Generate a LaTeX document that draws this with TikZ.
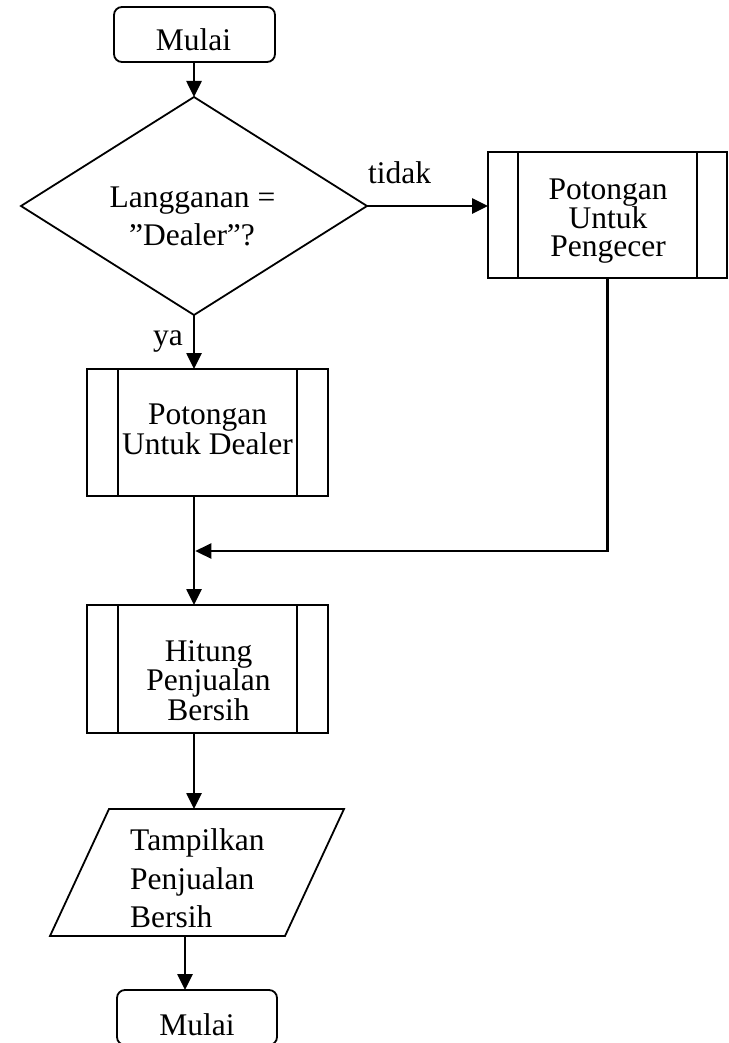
\documentclass[tikz,border=0pt]{standalone}
\usepackage{fontspec}
\setmainfont{Liberation Serif}
\usetikzlibrary{shapes.geometric,arrows.meta}
\begin{document}
\begin{tikzpicture}[x=1pt,y=-1pt,
  frame/.style={inner sep=0pt, outer sep=0pt},
  box/.style={frame, draw, line width=1.8pt},
  term/.style={box, rounded corners=8pt},
  decision/.style={box, diamond},
  edge/.style={line width=1.8pt},
  txt/.style={inner sep=0pt, anchor=base, font=\fontsize{31.5}{36}\selectfont},
  txtl/.style={txt, anchor=base west},
  flow/.style={line width=2.6pt, -{Triangle[length=16pt,width=15pt]}},
]
\useasboundingbox (0,0) rectangle (728,1043);

% shapes
\node[term, minimum width=161pt, minimum height=55pt] (start) at (194.5,34.5) {};
\node[decision, minimum width=346pt, minimum height=218pt] (ask) at (194,206) {};
\node[box, minimum width=241pt, minimum height=127pt] (dealer) at (207.5,432.5) {};
\node[box, minimum width=239pt, minimum height=126pt] (peng) at (607.5,215) {};
\node[box, minimum width=241pt, minimum height=128pt] (hitung) at (207.5,669) {};
\node[frame, minimum width=294pt, minimum height=127pt] (show) at (197,872.5) {};
\node[term, minimum width=160pt, minimum height=55pt] (stop) at (197,1017.5) {};

% inner bars of the predefined-process boxes
\foreach \n/\d in {dealer/31, peng/30, hitung/31} {
  \draw[edge] ([xshift=\d pt]\n.north west) -- ([xshift=\d pt]\n.south west);
  \draw[edge] ([xshift=-\d pt]\n.north east) -- ([xshift=-\d pt]\n.south east);
}

% input/output parallelogram
\draw[edge, line join=miter] ([xshift=59pt]show.north west) -- (show.north east)
  -- ([xshift=-59pt]show.south east) -- (show.south west) -- cycle;

% texts
\node[txt] (t-start) at (193.5,51) {Mulai};
\node[txt] (t-ask1) at (192.5,207) {Langganan =};
\node[txt] (t-ask2) at (192,245) {”Dealer”?};
\node[txt] (t-dl1) at (207.5,424) {Potongan};
\node[txt] (t-dl2) at (207.5,454) {Untuk Dealer};
\node[txt] (t-pg1) at (608,200) {Potongan};
\node[txt] (t-pg2) at (608,228) {Untuk};
\node[txt] (t-pg3) at (608,256) {Pengecer};
\node[txt] (t-ht1) at (208.5,661) {Hitung};
\node[txt] (t-ht2) at (208.5,690) {Penjualan};
\node[txt] (t-ht3) at (208.5,720) {Bersih};
\node[txtl] (t-sh1) at (130,850) {Tampilkan};
\node[txtl] (t-sh2) at (130,889) {Penjualan};
\node[txtl] (t-sh3) at (130,927) {Bersih};
\node[txt] (t-stop) at (197,1035) {Mulai};
\node[txtl] (no) at (368,183) {tidak};
\node[txtl] (yes) at (153,345) {ya};

% connectors
\coordinate (merge) at (195.3,551);
\coordinate (drop) at (185,935);
\draw[flow] (start.south -| ask.north) -- (ask.north);
\draw[flow] (ask.south) -- (ask.south |- dealer.north);
\draw[flow] (ask.east) -- (ask.east -| peng.west);
\draw[flow] (peng.south) |- (merge);
\draw[flow] (dealer.south -| ask.south) -- (hitung.north -| ask.south);
\draw[flow] (hitung.south -| ask.south) -- (show.north -| ask.south);
\draw[flow] (show.south -| drop) -- (stop.north -| drop);
\end{tikzpicture}
\end{document}
